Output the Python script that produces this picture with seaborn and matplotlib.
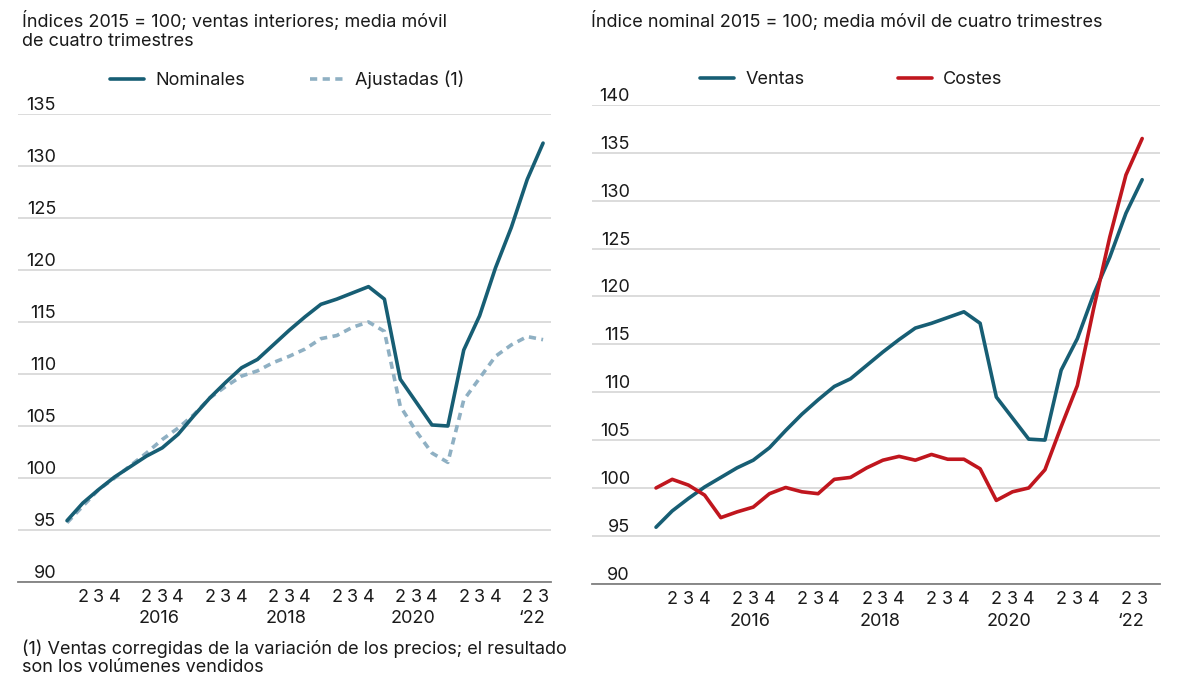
import matplotlib
matplotlib.use("Agg")
import matplotlib.pyplot as plt
import matplotlib.transforms as mtransforms
from matplotlib.lines import Line2D
import pandas as pd
import seaborn as sns

# ---------------- data ----------------
periods = pd.period_range("2015Q1", "2022Q3", freq="Q")
nominales = [95.9, 97.6, 98.9, 100.1,
             101.1, 102.1, 102.9, 104.2,
             106.0, 107.7, 109.2, 110.6,
             111.4, 112.8, 114.2, 115.5,
             116.7, 117.2, 117.8, 118.4,
             117.2, 109.5, 107.3, 105.1,
             105.0, 112.3, 115.6, 120.2,
             124.1, 128.7, 132.2]
ajustadas = [95.7, 97.3, 98.9, 100.0,
             101.2, 102.4, 103.7, 104.8,
             106.1, 107.7, 108.8, 109.8,
             110.3, 111.1, 111.7, 112.4,
             113.4, 113.7, 114.5, 115.0,
             114.1, 106.9, 104.5, 102.4,
             101.5, 107.5, 109.6, 111.7,
             112.8, 113.6, 113.3]
ventas = nominales
costes = [100.0, 100.9, 100.3, 99.25,
          96.9, 97.5, 98.0, 99.4,
          100.05, 99.6, 99.4, 100.9,
          101.1, 102.1, 102.9, 103.3,
          102.9, 103.5, 103.0, 103.0,
          102.0, 98.7, 99.6, 100.0,
          101.9, 106.4, 110.7, 118.7,
          126.2, 132.7, 136.5]

left_yticks = [90, 95, 100, 105, 110, 115, 120, 125, 130, 135]
right_yticks = [90, 95, 100, 105, 110, 115, 120, 125, 130, 135, 140]
year_labels = {2016: "2016", 2018: "2018", 2020: "2020", 2022: "\u201822"}

title_left = "Índices 2015 = 100; ventas interiores; media móvil\nde cuatro trimestres"
title_right = "Índice nominal 2015 = 100; media móvil de cuatro trimestres"
footnote = "(1) Ventas corregidas de la variación de los precios; el resultado\nson los volúmenes vendidos"

# ---------------- style ----------------
TEAL = "#175e74"
LIGHT = "#8fb0c3"
RED = "#c0161e"
GRID = "#d9d9d9"
AXIS = "#808080"
TXT = "#1a1a1a"

sns.set_theme(style="white")
plt.rcParams["font.family"] = ["Inter", "DejaVu Sans"]
FS = 13

W, H = 1200, 675
fig = plt.figure(figsize=(12, 6.75), dpi=100)

def px_axes(l, r, t, b):
    return fig.add_axes([l / W, 1 - b / H, (r - l) / W, (b - t) / H])

axL = px_axes(18, 551, 114, 582)
axR = px_axes(592, 1160, 105, 583.7)

idx = list(range(len(periods)))
dfL = pd.DataFrame({
    "x": idx * 2,
    "valor": nominales + ajustadas,
    "serie": ["Nominales"] * len(idx) + ["Ajustadas (1)"] * len(idx),
})
dfR = pd.DataFrame({
    "x": idx * 2,
    "valor": ventas + costes,
    "serie": ["Ventas"] * len(idx) + ["Costes"] * len(idx),
})

sns.lineplot(data=dfL, x="x", y="valor", hue="serie", style="serie",
             palette={"Nominales": TEAL, "Ajustadas (1)": LIGHT},
             dashes={"Nominales": "", "Ajustadas (1)": (2.0, 1.5)},
             hue_order=["Ajustadas (1)", "Nominales"],
             linewidth=2.6, legend=False, ax=axL)
sns.lineplot(data=dfR, x="x", y="valor", hue="serie", style="serie",
             palette={"Ventas": TEAL, "Costes": RED},
             dashes={"Ventas": "", "Costes": ""},
             hue_order=["Ventas", "Costes"],
             linewidth=2.6, legend=False, ax=axR)

def style_axes(ax, yticks, xlim, ylab_px):
    ax.set_xlim(*xlim)
    ax.set_ylim(yticks[0], yticks[-1])
    ax.set_xlabel("")
    ax.set_ylabel("")
    for s in ["top", "right", "left"]:
        ax.spines[s].set_visible(False)
    ax.spines["bottom"].set_color(AXIS)
    ax.spines["bottom"].set_linewidth(1.3)
    ax.spines["bottom"].set_zorder(3)
    ax.set_yticks(yticks)
    ax.set_yticklabels([])
    ax.tick_params(axis="y", length=0)
    ax.grid(axis="y", color=GRID, linewidth=1.3)
    ax.grid(axis="x", visible=False)
    ax.set_axisbelow(True)
    # y labels sitting above the gridlines
    l, b, w, h = ax.get_position().bounds
    xfrac = (ylab_px / W - l) / w
    trans = mtransforms.blended_transform_factory(ax.transAxes, ax.transData)
    for v in yticks:
        ax.text(xfrac, v, f"{v}", transform=trans, ha="right", va="bottom",
                fontsize=FS, color=TXT)
    # quarter ticks
    qpos = [i for i, p in enumerate(periods) if p.quarter != 1]
    qlab = [str(periods[i].quarter) for i in qpos]
    ax.set_xticks(qpos)
    ax.set_xticklabels(qlab, fontsize=FS, color=TXT)
    ax.tick_params(axis="x", length=0, pad=5)
    # year labels
    transx = mtransforms.blended_transform_factory(ax.transData, ax.transAxes)
    for yr, lab in year_labels.items():
        pos = [i for i, p in enumerate(periods) if p.year == yr and p.quarter != 1]
        xc = sum(pos) / len(pos) - 0.2
        ax.text(xc, -0.078, lab, transform=transx, ha="center", va="center",
                fontsize=FS, color=TXT)

style_axes(axL, left_yticks, (-3.09, 30.5), 56)
style_axes(axR, right_yticks, (-3.95, 31.1), 630)

# legends
hL = [Line2D([], [], color=TEAL, lw=2.6),
      Line2D([], [], color=LIGHT, lw=2.6, dashes=(2.0, 1.5))]
legL = fig.legend(hL, ["Nominales", "Ajustadas (1)"], ncol=2, frameon=False,
                  loc="center left", bbox_to_anchor=(110 / W, 1 - 80 / H),
                  fontsize=FS, handlelength=1.9, handletextpad=0.6,
                  columnspacing=3.6, borderpad=0, borderaxespad=0)
hR = [Line2D([], [], color=TEAL, lw=2.6), Line2D([], [], color=RED, lw=2.6)]
legR = fig.legend(hR, ["Ventas", "Costes"], ncol=2, frameon=False,
                  loc="center left", bbox_to_anchor=(700 / W, 1 - 80 / H),
                  fontsize=FS, handlelength=1.9, handletextpad=0.6,
                  columnspacing=5.2, borderpad=0, borderaxespad=0)
for leg in (legL, legR):
    for t in leg.get_texts():
        t.set_color(TXT)

# titles and footnote
fig.text(22 / W, 1 - 11 / H, title_left, ha="left", va="top", fontsize=FS,
         color=TXT, linespacing=1.18)
fig.text(591 / W, 1 - 11 / H, title_right, ha="left", va="top", fontsize=FS,
         color=TXT)
fig.text(22 / W, 1 - 639 / H, footnote, ha="left", va="top", fontsize=FS,
         color=TXT, linespacing=1.15)

fig.savefig("out.png", dpi=100, facecolor="white")
